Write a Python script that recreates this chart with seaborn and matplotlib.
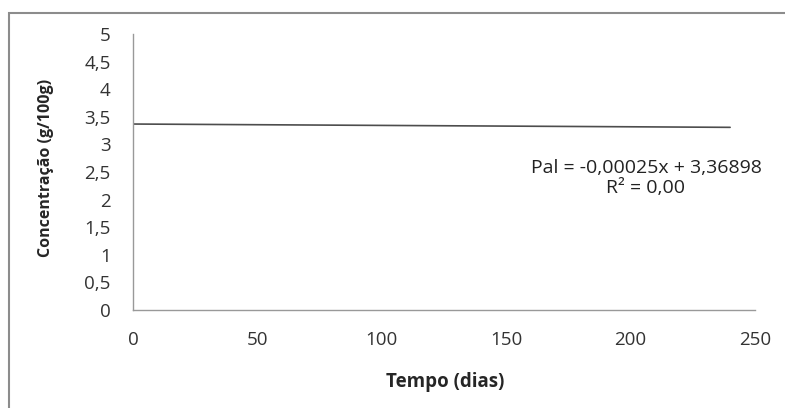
import matplotlib
matplotlib.use("Agg")
import matplotlib.pyplot as plt
import seaborn as sns
import pandas as pd
from matplotlib.patches import Rectangle

# Data
tempo = [0, 240]
concentracao = [3.369, 3.309]
x_ticks = [0, 50, 100, 150, 200, 250]
y_ticks = [0, 0.5, 1, 1.5, 2, 2.5, 3, 3.5, 4, 4.5, 5]
y_tick_labels = ["0", "0,5", "1", "1,5", "2", "2,5", "3", "3,5", "4", "4,5", "5"]
eq_text = "Pal = -0,00025x + 3,36898\nR² = 0,00"

sns.set_theme(style="white")
plt.rcParams['font.family'] = ['Open Sans', 'DejaVu Sans']

fig = plt.figure(figsize=(7.85, 4.08), dpi=100)
ax = fig.add_axes([133/785, 1-310/408, (755-133)/785, (310-34)/408])

df = pd.DataFrame({"Tempo": tempo, "Conc": concentracao})
sns.lineplot(data=df, x="Tempo", y="Conc", ax=ax, color="#4d4d4d", linewidth=1.2)

ax.set_xlim(0, 250)
ax.set_ylim(0, 5)
ax.set_xticks(x_ticks)
ax.set_xticklabels([str(t) for t in x_ticks])
ax.set_yticks(y_ticks)
ax.set_yticklabels(y_tick_labels)
ax.tick_params(axis='both', length=0, labelsize=13.5, colors="#333333")
ax.tick_params(axis='y', pad=16)
ax.tick_params(axis='x', pad=15)
for s in ["top", "right"]:
    ax.spines[s].set_visible(False)
for s in ["left", "bottom"]:
    ax.spines[s].set_color("#999999")
    ax.spines[s].set_linewidth(1.0)

ax.set_xlabel("Tempo (dias)", fontsize=13.5, fontweight="bold")
ax.xaxis.set_label_coords(445/785, 1-382/408, transform=fig.transFigure)
ax.xaxis.label.set_va("center")
ax.set_ylabel("Concentração (g/100g)", fontsize=11.5, fontweight="bold")
ax.yaxis.set_label_coords(46/785, 1-168/408, transform=fig.transFigure)
ax.yaxis.label.set_va("center")

ax.text(646/785, 1-178/408, eq_text, transform=fig.transFigure, ha="center", va="center",
        fontsize=14, color="#222222", linespacing=1.2)

fig.patches.append(Rectangle((9/785, -0.05), 1.2, 1-13/408+0.05, transform=fig.transFigure,
                             fill=False, edgecolor="#8c8c8c", linewidth=1.5))

fig.savefig("out.png", dpi=100)
